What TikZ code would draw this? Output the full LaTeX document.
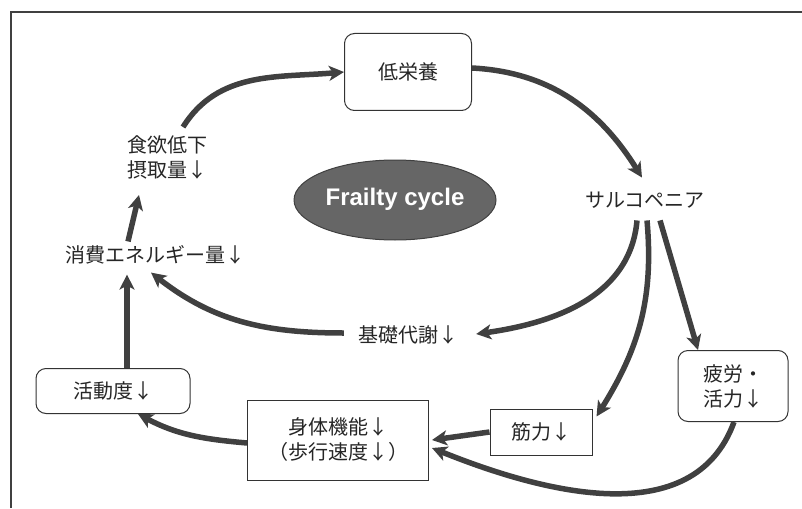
\documentclass[tikz,border=0pt]{standalone}
\usepackage{fontspec}
\setmainfont{Noto Sans CJK JP}
\newfontfamily\latinbold{Liberation Sans}
\usetikzlibrary{arrows.meta,shapes.geometric,calc}
\begin{document}
\begin{tikzpicture}[x=1pt,y=-1pt,
  every node/.style={font=\fontsize{20}{25}\selectfont, text=black!85, inner sep=0pt},
  rbox/.style={draw=black!80, line width=1pt, rounded corners=10pt, fill=white},
  sbox/.style={draw=black!80, line width=1pt, fill=white},
  cyc/.style={line width=5.5pt, draw=black!75, -{Stealth[length=15pt,width=15pt,inset=4pt]}},
]
\useasboundingbox (0,0) rectangle (802,508);
\draw[line width=1.2pt, black!75] (11,508) -- (11,12) -- (802,12);

\node[rbox, minimum width=127pt, minimum height=77pt] (low) at (408,72) {低栄養};
\node (sarco) at (645,200) {サルコペニア};
\node[ellipse, draw=black!75, line width=1pt, fill=black!60, minimum width=202pt, minimum height=80pt] (frail) at (395,200) {};
\node[font=\latinbold\bfseries\fontsize{24}{28}\selectfont, text=white] (frailtxt) at (395,199) {Frailty cycle};
\node[align=left] (app) at (167,157) {食欲低下\\摂取量↓};
\node (energy) at (155,255) {消費エネルギー量↓};
\node (basal) at (408,335) {基礎代謝↓};
\node[rbox, minimum width=154pt, minimum height=45pt] (act) at (113,391) {活動度↓};
\node[sbox, minimum width=181pt, minimum height=80pt, align=center] (phys) at (338,440) {身体機能↓\\（歩行速度↓）};
\node[sbox, minimum width=102pt, minimum height=46pt] (muscle) at (541,432) {筋力↓};
\node[rbox, minimum width=110pt, minimum height=71pt, align=left] (fatigue) at (733,386) {疲労・\\活力↓};

% cycle arrows
\draw[cyc] ([xshift=16pt,yshift=8pt]app.north) to[out=58,in=185] (low.west);
\draw[cyc] ([yshift=4pt]low.east) to[out=-3,in=122] ([xshift=-3pt,yshift=14pt]sarco.north);
\draw[cyc] ([xshift=-27pt,yshift=4pt]energy.north) to ([xshift=-28pt,yshift=-16pt]app.south);
\draw[cyc] ([xshift=14pt]act.north) to ([xshift=-28pt,yshift=-10pt]energy.south);
\draw[cyc] ([xshift=-14pt,yshift=2pt]basal.west) to[out=180,in=-38] ([xshift=-4pt,yshift=-8pt]energy.south);
\draw[cyc] ([xshift=-8pt,yshift=-12pt]sarco.south) to[out=-95,in=8] ([xshift=18pt,yshift=1pt]basal.east);
\draw[cyc] ([xshift=2pt,yshift=-12pt]sarco.south) to[out=-85,in=58] ([xshift=4pt,yshift=-8pt]muscle.north east);
\draw[cyc] ([xshift=15pt,yshift=-12pt]sarco.south) to ([xshift=-35pt]fatigue.north);
\draw[cyc] (muscle.west) to ([xshift=3pt]phys.east);
\draw[cyc] ([xshift=1pt]fatigue.south) to[out=-110,in=-22] ([xshift=3pt,yshift=-8pt]phys.east);
\draw[cyc] ([yshift=-3pt]phys.west) to[out=175,in=-28] ([xshift=25pt]act.south);
\end{tikzpicture}
\end{document}
